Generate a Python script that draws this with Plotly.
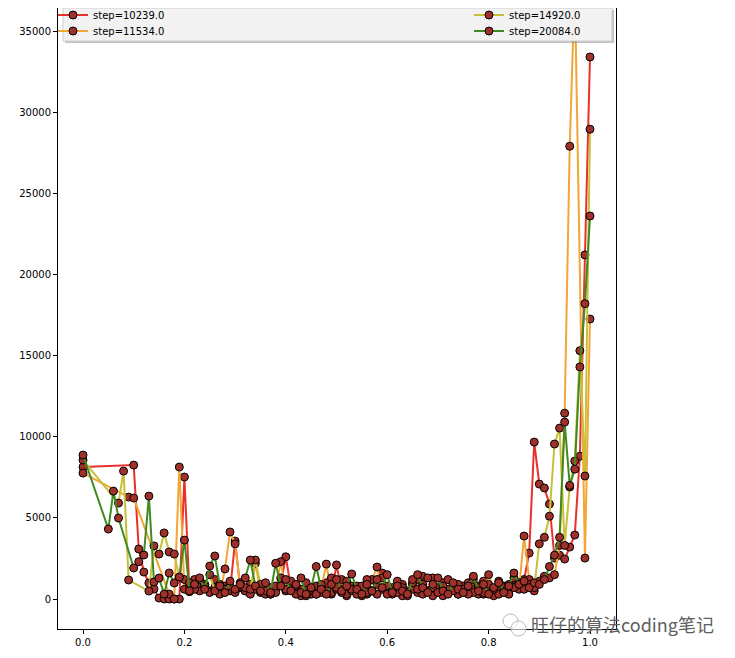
import plotly.graph_objects as go

# ---------------- data ----------------
series_names = ["step=10239.0", "step=11534.0", "step=14920.0", "step=20084.0"]

x_mid = [0.21, 0.22, 0.23, 0.24, 0.25, 0.26, 0.27, 0.28, 0.29, 0.30,
         0.31, 0.32, 0.33, 0.34, 0.35, 0.36, 0.37, 0.38, 0.39, 0.40,
         0.41, 0.42, 0.43, 0.44, 0.45, 0.46, 0.47, 0.48, 0.49, 0.50,
         0.51, 0.52, 0.53, 0.54, 0.55, 0.56, 0.57, 0.58, 0.59, 0.60,
         0.61, 0.62, 0.63, 0.64, 0.65, 0.66, 0.67, 0.68, 0.69, 0.70,
         0.71, 0.72, 0.73, 0.74, 0.75, 0.76, 0.77, 0.78, 0.79, 0.80,
         0.81, 0.82, 0.83, 0.84, 0.85, 0.86]

# step=10239.0 (red)
red_x_early = [0.0, 0.10, 0.11, 0.12, 0.13, 0.14, 0.15, 0.16, 0.17, 0.18, 0.19, 0.20]
red_y_early = [8130, 8250, 3080, 1660, 985, 615, 60, 0, 0, 0, 0, 7515]
red_y_mid = [450, 1100, 700, 900, 500, 1200, 600, 800, 500, 3570,
             700, 500, 900, 600, 400, 700, 300, 600, 900, 2600,
             700, 400, 200, 600, 300, 800, 400, 1000, 300, 2100,
             600, 200, 800, 400, 600, 300, 500, 900, 1600, 500,
             300, 800, 200, 500, 900, 400, 1400, 500, 200, 700,
             1000, 400, 600, 300, 800, 500, 700, 300, 1100, 500,
             200, 600, 800, 500, 900, 700]
red_x_tail = [0.87, 0.88, 0.89, 0.90, 0.91, 0.92, 0.93, 0.94, 0.95, 0.96, 0.97, 0.98, 0.99, 1.0]
red_y_tail = [1200, 2830, 9670, 7080, 6840, 5850, 2520, 2700, 2460, 3200, 3940, 8800, 21200, 33400]

# step=11534.0 (orange)
orange_x_early = [0.0, 0.09, 0.10, 0.17, 0.18, 0.19, 0.20]
orange_y_early = [7760, 6280, 6220, 300, 0, 8130, 600]
orange_y_mid = [800, 1200, 500, 900, 400, 700, 300, 1850, 4130, 3400,
                800, 500, 300, 2200, 500, 300, 700, 400, 2300, 500,
                900, 300, 600, 200, 500, 300, 700, 2150, 400, 600,
                1200, 300, 500, 800, 200, 400, 1200, 1970, 600, 300,
                700, 400, 900, 200, 600, 1200, 300, 500, 1300, 400,
                200, 600, 900, 300, 500, 1000, 400, 800, 300, 1500,
                600, 300, 700, 900, 1300, 600]
orange_x_tail = [0.87, 0.88, 0.89, 0.90, 0.91, 0.92, 0.93, 0.94, 0.95, 0.96, 0.97, 0.99, 1.0]
orange_y_tail = [3880, 1200, 500, 1100, 1400, 1300, 1500, 3300, 11450, 27900, 37800, 2520, 17250]

# step=14920.0 (olive)
olive_x_early = [0.0, 0.07, 0.08, 0.09, 0.13, 0.14, 0.15, 0.16, 0.17, 0.18, 0.19, 0.20]
olive_y_early = [8560, 5910, 7880, 1170, 490, 3270, 2770, 4070, 2900, 2770, 1350, 1200]
olive_y_mid = [1000, 600, 1200, 800, 1500, 500, 900, 600, 800, 400,
               1000, 700, 600, 2400, 900, 500, 300, 800, 1300, 600,
               1100, 800, 400, 1000, 600, 300, 900, 500, 1300, 700,
               400, 1100, 600, 300, 800, 1200, 500, 300, 1300, 800,
               500, 1100, 700, 400, 1000, 600, 900, 1300, 700, 400,
               800, 1200, 500, 900, 600, 300, 1200, 700, 400, 900,
               600, 1100, 500, 300, 700, 1000]
olive_x_tail = [0.87, 0.88, 0.89, 0.90, 0.91, 0.92, 0.93, 0.94, 0.95, 0.96, 0.97, 0.98, 0.99, 1.0]
olive_y_tail = [600, 900, 700, 3400, 3800, 5100, 9550, 10530, 3300, 6900, 8500, 15300, 7580, 28950]

# step=20084.0 (green)
green_x_early = [0.0, 0.05, 0.06, 0.07, 0.10, 0.11, 0.12, 0.13, 0.14, 0.15, 0.16, 0.17, 0.18, 0.19, 0.20]
green_y_early = [8870, 4310, 6650, 4990, 1910, 2300, 2710, 6340, 1050, 1290, 300, 1600, 985, 1350, 3630]
green_y_mid = [500, 900, 1300, 600, 2030, 2650, 800, 400, 1100, 600,
               900, 1300, 2400, 800, 500, 1000, 400, 2200, 800, 1200,
               500, 900, 1300, 300, 700, 2000, 600, 300, 900, 1200,
               500, 800, 1540, 600, 300, 900, 500, 1200, 700, 1500,
               400, 800, 500, 300, 1200, 1500, 700, 400, 900, 1300,
               500, 300, 1000, 600, 400, 800, 1400, 500, 900, 300,
               700, 1000, 400, 800, 1600, 900]
green_x_tail = [0.87, 0.88, 0.89, 0.90, 0.91, 0.92, 0.93, 0.94, 0.95, 0.96, 0.97, 0.98, 0.99, 1.0]
green_y_tail = [1100, 700, 1000, 900, 1200, 2000, 2700, 3800, 10900, 7000, 8000, 14300, 18200, 23600]

x_tick_vals = [0.0, 0.2, 0.4, 0.6, 0.8, 1.0]
x_tick_text = ["0.0", "0.2", "0.4", "0.6", "0.8", "1.0"]
y_tick_vals = [0, 5000, 10000, 15000, 20000, 25000, 30000, 35000]
y_tick_text = ["0", "5000", "10000", "15000", "20000", "25000", "30000", "35000"]

watermark = "旺仔的算法coding笔记"

# ---------------- figure ----------------
line_colors = ["#e8312b", "#f2a635", "#c6c138", "#3f8b22"]
marker_fill = "#a0302a"

all_series = [
    (red_x_early + x_mid + red_x_tail, red_y_early + red_y_mid + red_y_tail),
    (orange_x_early + x_mid + orange_x_tail, orange_y_early + orange_y_mid + orange_y_tail),
    (olive_x_early + x_mid + olive_x_tail, olive_y_early + olive_y_mid + olive_y_tail),
    (green_x_early + x_mid + green_x_tail, green_y_early + green_y_mid + green_y_tail),
]
legend_ids = ["legend", "legend2", "legend3", "legend4"]

fig = go.Figure()
for (xs, ys), name, col, lg in zip(all_series, series_names, line_colors, legend_ids):
    fig.add_trace(go.Scatter(
        x=xs, y=ys, name=name, mode="lines+markers",
        line=dict(color=col, width=2),
        marker=dict(size=8, color=marker_fill, line=dict(color="black", width=1)),
        legend=lg, cliponaxis=True,
    ))

# page body has an 8px margin -> work in screen pixels and convert
OFF = 8
W, H = 735 - OFF, 658 - OFF
SL, SR, ST, SB = 58, 616, 8, 629          # plot frame in screen pixels
L, R, T, B = SL - OFF, SR - OFF, ST - OFF, SB - OFF


def px(sx):
    return (sx - OFF - L) / (R - L)


def py(sy):
    return 1 - ((sy - OFF) - T) / (B - T)


# y scale: value 0 at screen 599, 35000 at screen 31
def yval(sy):
    return (599 - sy) * 35000 / 568


axis_common = dict(
    showgrid=False, zeroline=False, showline=True, linecolor="black", linewidth=1,
    mirror=True, ticks="outside", ticklen=4, tickcolor="black", tickwidth=1,
    tickfont=dict(family="DejaVu Sans", size=10, color="black"),
)

leg_common = dict(bgcolor="rgba(0,0,0,0)", borderwidth=0, xanchor="left", yanchor="middle",
                  font=dict(family="DejaVu Sans", size=10, color="black"), itemwidth=30)

fig.update_layout(
    width=W, height=H,
    margin=dict(l=L, r=W - R, t=T, b=H - B, autoexpand=False),
    paper_bgcolor="white", plot_bgcolor="white",
    font=dict(family="DejaVu Sans", size=10, color="black"),
    xaxis=dict(range=[(SL - 83) / 507, (SR - 83) / 507], tickvals=x_tick_vals,
               ticktext=x_tick_text, **axis_common),
    yaxis=dict(range=[yval(SB), yval(ST)], tickvals=y_tick_vals, ticktext=y_tick_text,
               **axis_common),
    legend=dict(x=px(53), y=py(15), **leg_common),
    legend2=dict(x=px(53), y=py(31), **leg_common),
    legend3=dict(x=px(469), y=py(15), **leg_common),
    legend4=dict(x=px(469), y=py(31), **leg_common),
    showlegend=True,
)

# legend frame (shadow + box)
fig.add_shape(type="rect", xref="paper", yref="paper",
              x0=px(65), x1=px(614), y0=py(43), y1=py(10),
              fillcolor="rgba(120,120,120,0.45)", line=dict(width=0), layer="above")
fig.add_shape(type="rect", xref="paper", yref="paper",
              x0=px(63), x1=px(612), y0=py(41), y1=py(8),
              fillcolor="rgba(244,244,244,0.95)", line=dict(color="#cccccc", width=1), layer="above")

# watermark
fig.add_shape(type="circle", xref="paper", yref="paper",
              x0=px(503), x1=px(518), y0=py(628), y1=py(614),
              line=dict(color="#bbbbbb", width=1), fillcolor="rgba(255,255,255,0.6)", layer="above")
fig.add_shape(type="circle", xref="paper", yref="paper",
              x0=px(511), x1=px(526), y0=py(636), y1=py(621),
              line=dict(color="#bbbbbb", width=1), fillcolor="rgba(255,255,255,0.6)", layer="above")
fig.add_annotation(text=watermark, xref="paper", yref="paper",
                   x=px(529), y=py(624), xanchor="left", yanchor="middle",
                   showarrow=False,
                   font=dict(family="Noto Sans CJK SC", size=18, color="#606060"))

fig.write_html("out.html")
